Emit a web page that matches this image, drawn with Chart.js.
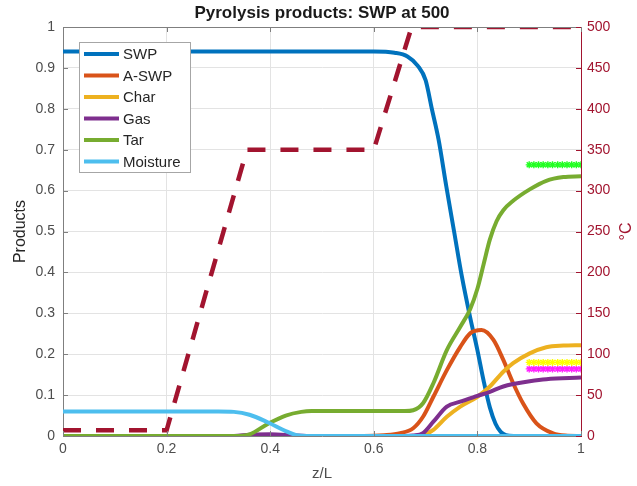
<!DOCTYPE html>
<html>
<head>
<meta charset="utf-8">
<script src="https://cdn.jsdelivr.net/npm/chart.js@4.4.1/dist/chart.umd.min.js"></script>
<style>
  html, body { margin: 0; padding: 0; background: #fff; }
  #wrap { width: 637px; height: 486px; }
</style>
</head>
<body>
<div id="wrap"><canvas id="chartId" width="637" height="486"></canvas></div>
<script>
// Pyrolysis products along the reactor (z/L), left axis = mass fraction, right axis = temperature

const swpZ   = [0, 0.6, 0.64, 0.665, 0.685, 0.7, 0.712, 0.725, 0.74, 0.755, 0.77, 0.786, 0.8, 0.812, 0.824, 0.835, 0.845, 0.855, 0.87, 1];
const swpVal = [0.94, 0.94, 0.937, 0.928, 0.905, 0.87, 0.80, 0.725, 0.61, 0.50, 0.39, 0.29, 0.21, 0.135, 0.07, 0.03, 0.01, 0.002, 0, 0];

const aswpZ   = [0, 0.58, 0.62, 0.651, 0.676, 0.695, 0.715, 0.741, 0.767, 0.786, 0.808, 0.831, 0.85, 0.869, 0.888, 0.914, 0.946, 0.97, 1];
const aswpVal = [0, 0, 0.002, 0.007, 0.019, 0.047, 0.096, 0.161, 0.218, 0.251, 0.259, 0.235, 0.186, 0.129, 0.08, 0.031, 0.0065, 0.001, 0];

const charZ   = [0, 0.68, 0.695, 0.715, 0.741, 0.767, 0.8, 0.824, 0.85, 0.869, 0.901, 0.933, 0.966, 1];
const charVal = [0, 0, 0.002, 0.015, 0.047, 0.072, 0.096, 0.121, 0.157, 0.178, 0.202, 0.217, 0.221, 0.222];

const gasZ   = [0, 0.33, 0.36, 0.4, 0.44, 0.47, 0.66, 0.676, 0.695, 0.715, 0.741, 0.767, 0.8, 0.824, 0.85, 0.869, 0.901, 0.933, 1];
const gasVal = [0, 0, 0.003, 0.004, 0.002, 0, 0, 0.001, 0.007, 0.035, 0.072, 0.084, 0.098, 0.108, 0.121, 0.127, 0.134, 0.139, 0.143];

const tarZ   = [0, 0.33, 0.36, 0.396, 0.43, 0.46, 0.48, 0.66, 0.676, 0.695, 0.715, 0.741, 0.767, 0.786, 0.8, 0.812, 0.824, 0.837, 0.85, 0.869, 0.901, 0.933, 0.966, 1];
const tarVal = [0, 0, 0.004, 0.03, 0.05, 0.059, 0.061, 0.061, 0.063, 0.08, 0.129, 0.21, 0.267, 0.31, 0.36, 0.42, 0.48, 0.525, 0.552, 0.575, 0.603, 0.624, 0.633, 0.635];

const moistZ   = [0, 0.3, 0.33, 0.36, 0.396, 0.43, 0.451, 0.47, 1];
const moistVal = [0.06, 0.06, 0.059, 0.052, 0.033, 0.012, 0.002, 0, 0];

// temperature profile (°C, right axis)
const tempZ   = [0, 0.2, 0.355, 0.6, 0.673, 1];
const tempVal = [7, 7, 350, 350, 500, 500];

// measured end values (asterisks)
const markZ = [0.9, 0.909, 0.918, 0.927, 0.936, 0.945, 0.955, 0.964, 0.973, 0.982, 0.991, 1.0];
const markTar  = [0.663, 0.663, 0.663, 0.663, 0.663, 0.663, 0.663, 0.663, 0.663, 0.663, 0.663, 0.663];
const markChar = [0.18, 0.18, 0.18, 0.18, 0.18, 0.18, 0.18, 0.18, 0.18, 0.18, 0.18, 0.18];
const markGas  = [0.164, 0.164, 0.164, 0.164, 0.164, 0.164, 0.164, 0.164, 0.164, 0.164, 0.164, 0.164];

const seriesNames  = ['SWP', 'A-SWP', 'Char', 'Gas', 'Tar', 'Moisture'];
const seriesColors = ['#0072BD', '#D95319', '#EDB120', '#7E2F8E', '#77AC30', '#4DBEEE'];
const tempColor = '#A2142F';

const FONT = "'Liberation Sans', Arial, sans-serif";
const AXIS_GRAY = '#4d4d4d';

const pts = (zs, vs) => zs.map((z, i) => ({ x: z, y: vs[i] }));
const fmt = v => String(Number(v.toFixed(2)));   // 0 / 0.1 / 1, not 0.0 / 1.0

const curveSets = [
  [swpZ, swpVal], [aswpZ, aswpVal], [charZ, charVal],
  [gasZ, gasVal], [tarZ, tarVal], [moistZ, moistVal]
].map((s, i) => ({
  label: seriesNames[i],
  data: pts(s[0], s[1]),
  borderColor: seriesColors[i],
  backgroundColor: seriesColors[i],
  borderWidth: 4,
  pointRadius: 0,
  cubicInterpolationMode: 'monotone',
  yAxisID: 'y',
  order: 10 - i
}));

const markerSet = (vals, color) => ({
  label: '',
  data: pts(markZ, vals),
  showLine: false,
  pointStyle: 'star',
  pointRadius: 3.5,
  pointBorderWidth: 1.4,
  pointBorderColor: color,
  pointBackgroundColor: color,
  yAxisID: 'y',
  order: 2
});

const datasets = curveSets.concat([
  markerSet(markTar, '#22ff22'),
  markerSet(markChar, '#ffff00'),
  markerSet(markGas, '#ff22ff'),
  {
    label: 'T',
    data: pts(tempZ, tempVal),
    borderColor: tempColor,
    borderWidth: 4.5,
    borderDash: [18, 15],
    pointRadius: 0,
    tension: 0,
    yAxisID: 'y2',
    order: 1
  }
]);

// title, top border, inward ticks, legend box, right axis label
const decor = {
  id: 'decor',
  afterDraw(chart) {
    const ctx = chart.ctx;
    const a = chart.chartArea;
    const sx = chart.scales.x, sy = chart.scales.y, sy2 = chart.scales.y2;
    ctx.save();

    // box
    ctx.strokeStyle = '#7f7f7f';
    ctx.lineWidth = 1;
    ctx.beginPath();
    ctx.moveTo(a.left, a.top + 0.5);
    ctx.lineTo(a.right, a.top + 0.5);
    ctx.stroke();

    // inward ticks
    ctx.beginPath();
    sx.ticks.forEach(t => {
      const px = Math.round(sx.getPixelForValue(t.value)) + 0.5;
      ctx.moveTo(px, a.bottom); ctx.lineTo(px, a.bottom - 5);
      ctx.moveTo(px, a.top); ctx.lineTo(px, a.top + 5);
    });
    sy.ticks.forEach(t => {
      const py = Math.round(sy.getPixelForValue(t.value)) + 0.5;
      ctx.moveTo(a.left, py); ctx.lineTo(a.left + 5, py);
    });
    ctx.stroke();
    ctx.strokeStyle = tempColor;
    ctx.beginPath();
    sy2.ticks.forEach(t => {
      const py = Math.round(sy2.getPixelForValue(t.value)) + 0.5;
      ctx.moveTo(a.right, py); ctx.lineTo(a.right - 5, py);
    });
    ctx.stroke();

    // title
    ctx.fillStyle = '#1a1a1a';
    ctx.font = 'bold 17px ' + FONT;
    ctx.textAlign = 'center';
    ctx.textBaseline = 'middle';
    ctx.fillText('Pyrolysis products: SWP at 500', (a.left + a.right) / 2, 13);

    // right axis label, reads bottom to top
    ctx.save();
    ctx.translate(627, (a.top + a.bottom) / 2);
    ctx.rotate(-Math.PI / 2);
    ctx.fillStyle = tempColor;
    ctx.font = '16px ' + FONT;
    ctx.fillText('°C', 0, 0);
    ctx.restore();

    // legend
    const lx = 79, ly = 42, lw = 111, lh = 130;
    ctx.fillStyle = '#ffffff';
    ctx.fillRect(lx, ly, lw, lh);
    ctx.strokeStyle = '#a6a6a6';
    ctx.strokeRect(lx + 0.5, ly + 0.5, lw, lh);
    ctx.font = '15px ' + FONT;
    ctx.textAlign = 'left';
    seriesNames.forEach((name, i) => {
      const y = 54 + i * 21.5;
      ctx.strokeStyle = seriesColors[i];
      ctx.lineWidth = 4;
      ctx.beginPath();
      ctx.moveTo(84, y); ctx.lineTo(119, y);
      ctx.stroke();
      ctx.fillStyle = '#262626';
      ctx.fillText(name, 123, y + 1);
    });
    ctx.restore();
  }
};

new Chart(document.getElementById('chartId').getContext('2d'), {
  type: 'line',
  data: { datasets: datasets },
  options: {
    responsive: false,
    animation: false,
    layout: { padding: { top: 27 } },
    plugins: { legend: { display: false }, tooltip: { enabled: false }, title: { display: false } },
    scales: {
      x: {
        type: 'linear', min: 0, max: 1,
        afterFit: s => { s.height = 50; },
        ticks: { stepSize: 0.2, callback: fmt, color: AXIS_GRAY, font: { family: FONT, size: 14 }, padding: 5, maxRotation: 0 },
        grid: { color: '#e3e3e3', drawTicks: false },
        border: { color: '#7f7f7f' },
        title: { display: true, text: 'z/L', color: AXIS_GRAY, font: { family: FONT, size: 15 }, padding: { top: 4, bottom: 3 } }
      },
      y: {
        position: 'left', min: 0, max: 1,
        afterFit: s => { s.width = 63; },
        ticks: { stepSize: 0.1, callback: fmt, color: AXIS_GRAY, font: { family: FONT, size: 14 }, padding: 8 },
        grid: { color: '#e3e3e3', drawTicks: false },
        border: { color: '#7f7f7f' },
        title: { display: true, text: 'Products', color: '#262626', font: { family: FONT, size: 16 }, padding: { top: 11, bottom: 0 } }
      },
      y2: {
        position: 'right', min: 0, max: 500,
        afterFit: s => { s.width = 56; },
        ticks: { stepSize: 50, color: tempColor, font: { family: FONT, size: 14 }, padding: 6 },
        grid: { drawOnChartArea: false, drawTicks: false },
        border: { color: tempColor }
      }
    }
  },
  plugins: [decor]
});
</script>
</body>
</html>
